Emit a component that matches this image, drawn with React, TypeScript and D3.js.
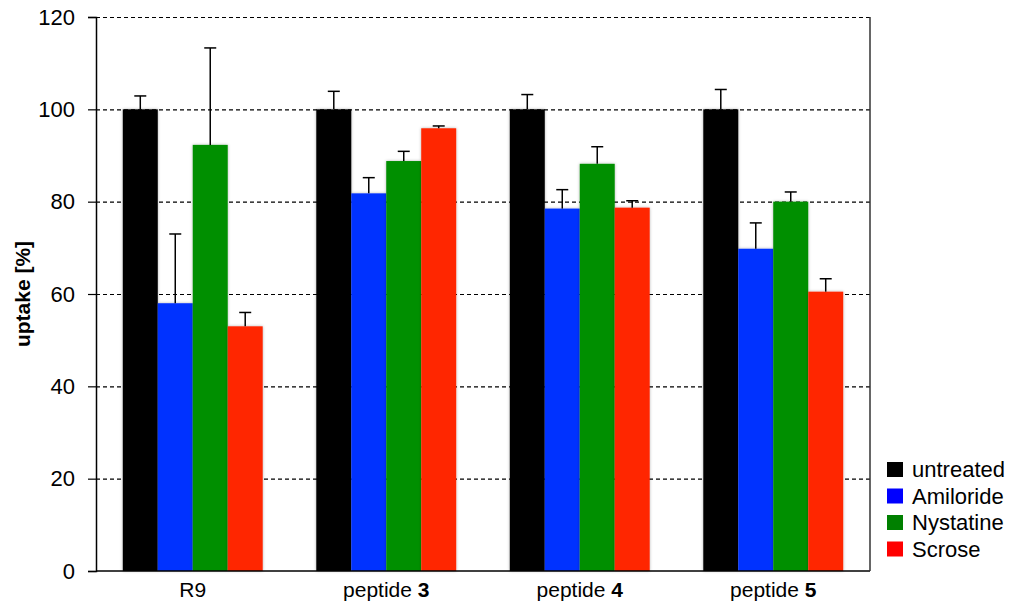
import React, {useEffect, useRef} from 'react'
import * as d3 from 'd3'

const categories = ['R9', 'peptide 3', 'peptide 4', 'peptide 5']
const boldParts = ['', '3', '4', '5']
const seriesNames = ['untreated', 'Amiloride', 'Nystatine', 'Scrose']
const untreated = [100, 100, 100, 100]
const amiloride = [58, 81.8, 78.5, 69.8]
const nystatine = [92.3, 88.8, 88.2, 80]
const scrose = [53, 95.9, 78.7, 60.5]
const untreatedErr = [2.9, 3.9, 3.2, 4.3]
const amilorideErr = [15, 3.4, 4.1, 5.6]
const nystatineErr = [21, 2.1, 3.7, 2.1]
const scroseErr = [3, 0.5, 1.5, 2.8]
const yTicks = [0, 20, 40, 60, 80, 100, 120]

const barColors = ['#000000', '#0433ff', '#008f00', '#ff2600']
const legendColors = ['#000000', '#0000ff', '#008000', '#ff0000']

const W = 1013
const H = 607
const margin = {left: 96, right: 143, top: 17, bottom: 36}
const font = 'Liberation Sans, Arial, sans-serif'

export default function App() {
	const svgRef = useRef<SVGSVGElement>(null)

	useEffect(() => {
		const svg = d3.select(svgRef.current)
		svg.selectAll('*').remove()

		const values = [untreated, amiloride, nystatine, scrose]
		const errors = [untreatedErr, amilorideErr, nystatineErr, scroseErr]

		const x0 = margin.left
		const x1 = W - margin.right
		const yBottom = H - margin.bottom

		const xScale = d3.scaleBand<string>()
			.domain(categories)
			.range([x0, x1])
			.paddingInner(0.277)
			.paddingOuter(0.1385)
		const xSub = d3.scaleBand<string>()
			.domain(seriesNames)
			.range([0, xScale.bandwidth()])
		const yScale = d3.scaleLinear()
			.domain([0, 120])
			.range([yBottom, margin.top])

		const defs = svg.append('defs')
		const filter = defs.append('filter').attr('id', 'shadow')
			.attr('x', '-20%').attr('y', '-5%').attr('width', '140%').attr('height', '110%')
		filter.append('feDropShadow')
			.attr('dx', 0).attr('dy', 0)
			.attr('stdDeviation', 1.5)
			.attr('flood-color', '#000')
			.attr('flood-opacity', 0.3)

		// grid lines
		svg.append('g')
			.selectAll('line')
			.data(yTicks.filter(d => d > 0))
			.join('line')
			.attr('x1', x0)
			.attr('x2', x1)
			.attr('y1', d => yScale(d) + 0.5)
			.attr('y2', d => yScale(d) + 0.5)
			.attr('stroke', '#000')
			.attr('stroke-width', 1.1)
			.attr('stroke-dasharray', '4,3')

		// bars
		const groups = svg.append('g')
			.selectAll('g')
			.data(categories)
			.join('g')
			.attr('transform', d => 'translate(' + xScale(d) + ',0)')

		groups.each(function(cat, ci) {
			const g = d3.select(this)
			seriesNames.forEach((s, si) => {
				g.append('rect')
					.attr('x', xSub(s) as number)
					.attr('width', xSub.bandwidth())
					.attr('y', yScale(values[si][ci]))
					.attr('height', yBottom - yScale(values[si][ci]))
					.attr('fill', barColors[si])
					.attr('filter', 'url(#shadow)')
			})
			seriesNames.forEach((s, si) => {
				const cx = (xSub(s) as number) + xSub.bandwidth() / 2
				const top = yScale(values[si][ci] + errors[si][ci])
				const base = yScale(values[si][ci])
				g.append('line')
					.attr('x1', cx).attr('x2', cx)
					.attr('y1', base).attr('y2', top)
					.attr('stroke', '#000').attr('stroke-width', 1.5)
				g.append('line')
					.attr('x1', cx - 6).attr('x2', cx + 6)
					.attr('y1', top).attr('y2', top)
					.attr('stroke', '#000').attr('stroke-width', 1.5)
			})
		})

		// axes
		const yAxis = d3.axisLeft(yScale)
			.tickValues(yTicks)
			.tickSize(8)
			.tickPadding(13)
		const yg = svg.append('g')
			.attr('transform', 'translate(' + x0 + ',0)')
			.call(yAxis)
		yg.select('.domain').attr('stroke-width', 1.5)
		yg.selectAll('.tick line').attr('stroke-width', 1.2)
		yg.selectAll('text')
			.attr('font-family', font)
			.attr('font-size', 22)
			.attr('fill', '#000')

		svg.append('line')
			.attr('x1', x0).attr('x2', x1)
			.attr('y1', yBottom).attr('y2', yBottom)
			.attr('stroke', '#000').attr('stroke-width', 1.5)
		svg.append('line')
			.attr('x1', x1).attr('x2', x1)
			.attr('y1', margin.top).attr('y2', yBottom)
			.attr('stroke', '#333').attr('stroke-width', 1.5)

		// x labels
		const xl = svg.append('g')
			.selectAll('text')
			.data(categories)
			.join('text')
			.attr('x', d => (xScale(d) as number) + xScale.bandwidth() / 2)
			.attr('y', yBottom + 26)
			.attr('text-anchor', 'middle')
			.attr('font-family', font)
			.attr('font-size', 21)
		xl.each(function(d, i) {
			const t = d3.select(this)
			if (boldParts[i]) {
				t.append('tspan').text(d.replace(' ' + boldParts[i], '') + ' ')
				t.append('tspan').attr('font-weight', 'bold').text(boldParts[i])
			} else {
				t.text(d)
			}
		})

		// y label
		svg.append('text')
			.attr('transform', 'translate(30,' + ((margin.top + yBottom) / 2) + ') rotate(-90)')
			.attr('text-anchor', 'middle')
			.attr('font-family', font)
			.attr('font-weight', 'bold')
			.attr('font-size', 21)
			.text('uptake [%]')

		// legend
		const legend = svg.append('g')
			.attr('transform', 'translate(887,462)')
		seriesNames.forEach((s, i) => {
			legend.append('rect')
				.attr('x', 0).attr('y', i * 26.5)
				.attr('width', 16).attr('height', 15)
				.attr('fill', legendColors[i])
			legend.append('text')
				.attr('x', 25).attr('y', i * 26.5 + 15)
				.attr('font-family', font)
				.attr('font-size', 22)
				.text(s)
		})
	}, [])

	return (
		<svg ref={svgRef} width={W} height={H}
			style={{position: 'absolute', left: 0, top: 0, background: '#fff'}}/>
	)
}
